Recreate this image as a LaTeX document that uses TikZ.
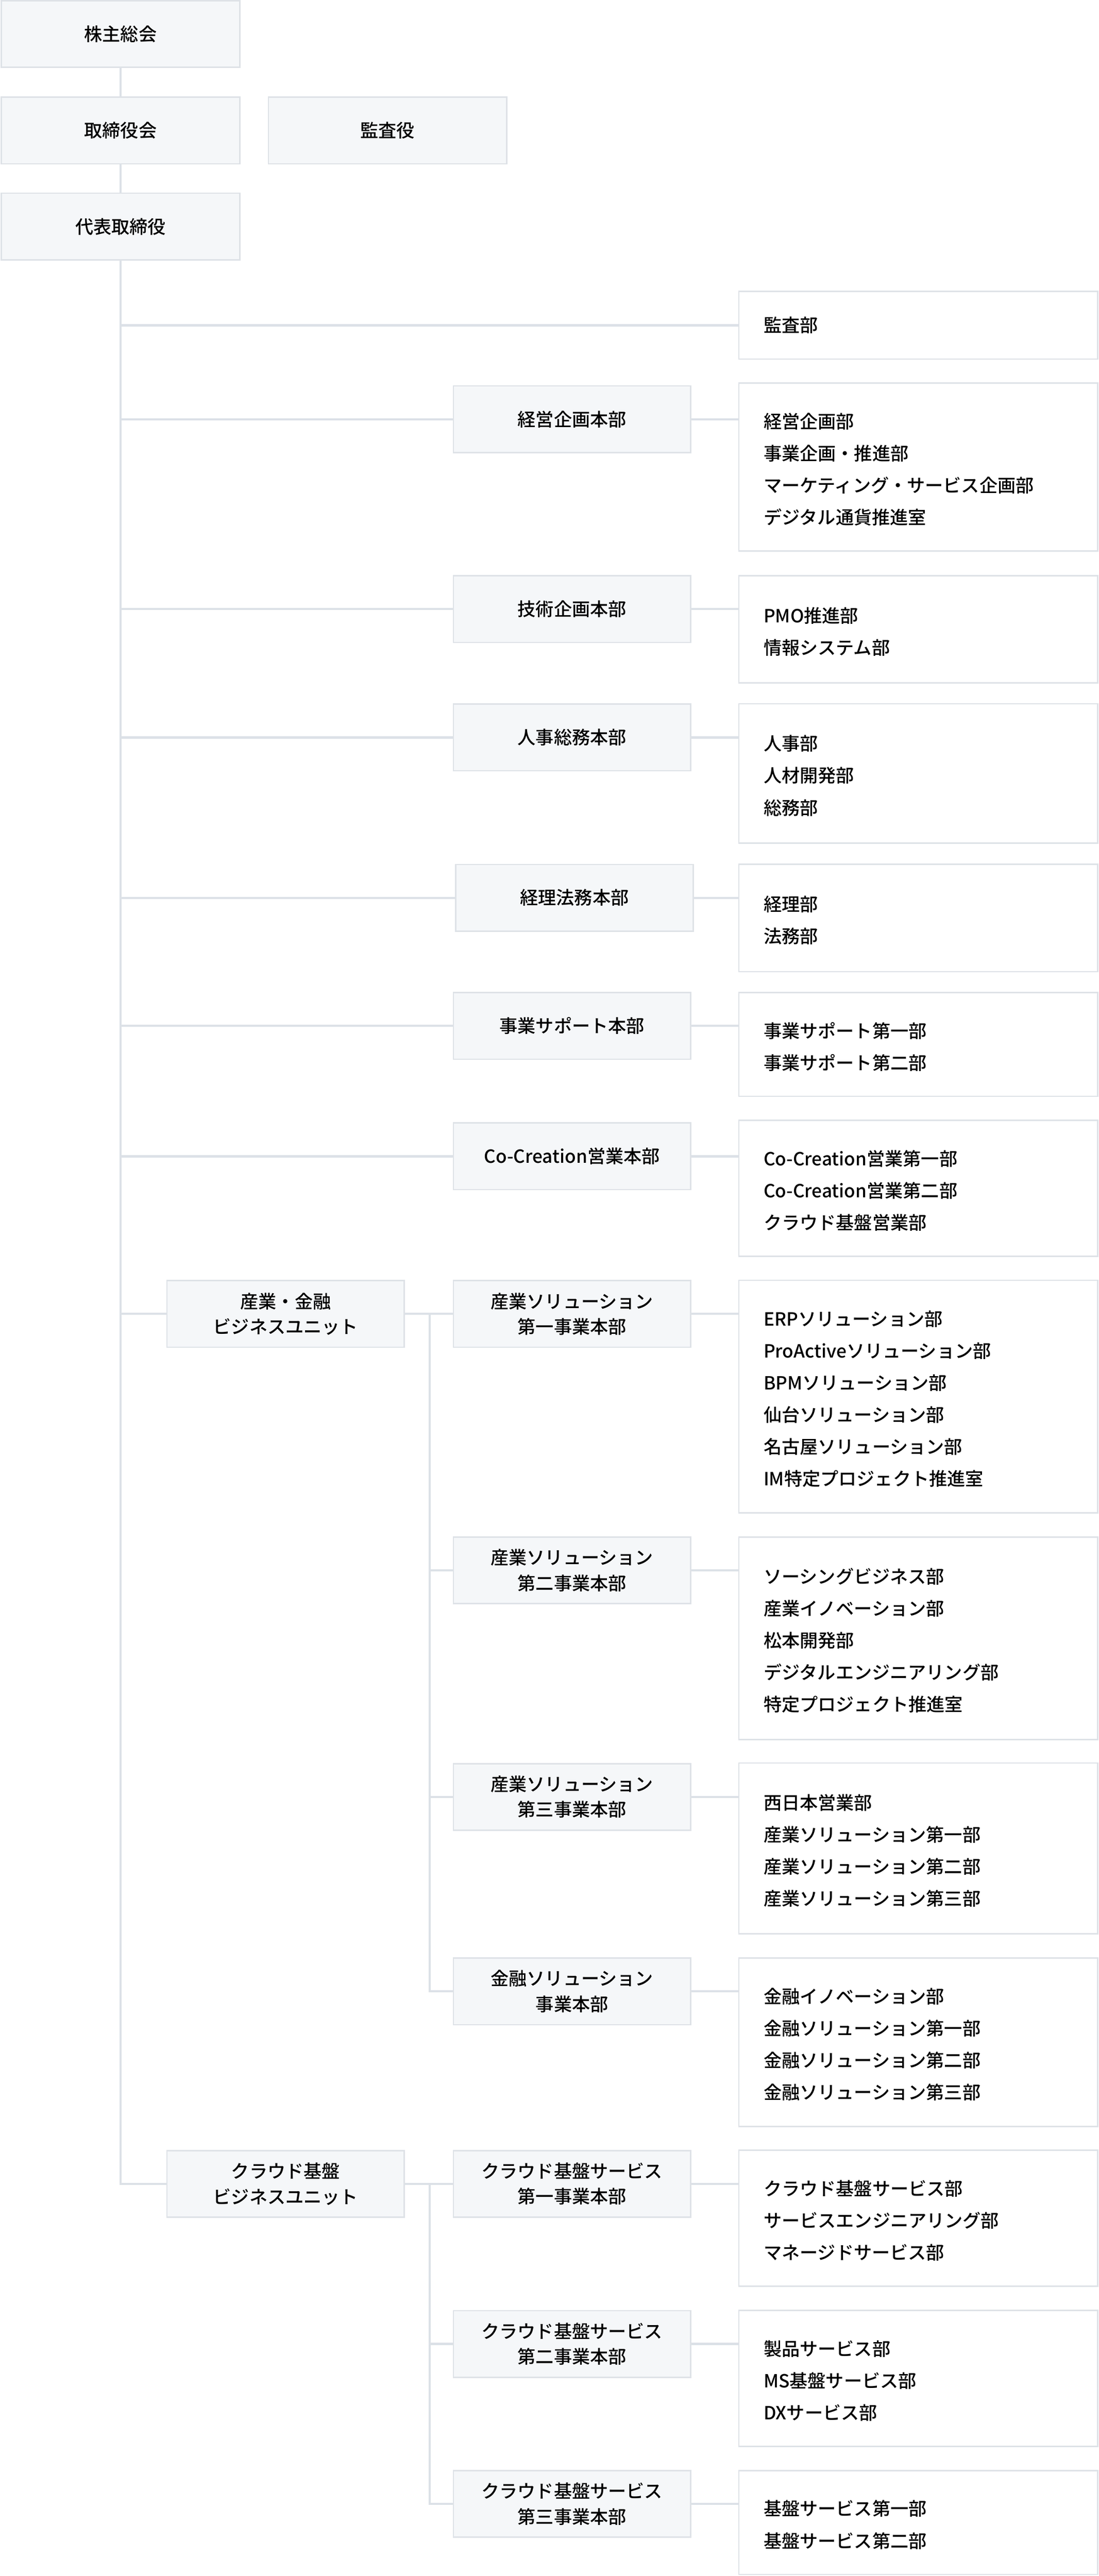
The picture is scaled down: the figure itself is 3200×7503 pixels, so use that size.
\documentclass[tikz,border=0pt]{standalone}
\usepackage{fontspec}
\setmainfont{Noto Sans CJK JP Medium}
\usetikzlibrary{positioning}

\definecolor{boxfill}{HTML}{F5F7F9}
\definecolor{boxline}{HTML}{DEE2E7}
\definecolor{linkline}{HTML}{DCE1E7}

\begin{document}
\begin{tikzpicture}[
    x = 0.01cm,
    y = -0.01cm,
    greybox/.style={draw=boxline, fill=boxfill, line width=0.04cm, inner sep=0pt,
        minimum height=1.94cm, align=center, font=\fontsize{15pt}{21pt}\selectfont},
    topbox/.style={greybox, minimum width=6.94cm},
    honbu/.style={greybox, minimum width=6.91cm},
    bubox/.style={draw=boxline, fill=white, line width=0.04cm, anchor=north west,
        inner xsep=0.72cm, inner ysep=0pt, text width=9cm, align=left,
        font=\fontsize{15pt}{26.5pt}\selectfont},
    bulist/.style={bubox, execute at begin node={\rule{0pt}{16.5pt}}},
    link/.style={draw=linkline, line width=0.063cm}
    ]
    \useasboundingbox (0,0) rectangle (3200,7503);

    % top of the chart
    \node[topbox] (soukai) at (351,99) {株主総会};
    \node[topbox] (torikai) at (351,380) {取締役会};
    \node[topbox] (kansayaku) at (1129,380) {監査役};
    \node[topbox] (daihyo) at (351,660) {代表取締役};

    % headquarters
    \node[honbu] (keiei) at (1666,1221) {経営企画本部};
    \node[honbu] (gijutsu) at (1666,1774) {技術企画本部};
    \node[honbu] (jinji) at (1666,2148) {人事総務本部};
    \node[honbu] (keiri) at (1673,2615) {経理法務本部};
    \node[honbu] (support) at (1666,2988) {事業サポート本部};
    \node[honbu] (cocre) at (1666,3368) {Co-Creation営業本部};
    \node[honbu] (sangyo1) at (1666,3827) {産業ソリューション\\第一事業本部};
    \node[honbu] (sangyo2) at (1666,4574) {産業ソリューション\\第二事業本部};
    \node[honbu] (sangyo3) at (1666,5234) {産業ソリューション\\第三事業本部};
    \node[honbu] (kinyu) at (1666,5800) {金融ソリューション\\事業本部};
    \node[honbu] (cloud1) at (1666,6361) {クラウド基盤サービス\\第一事業本部};
    \node[honbu] (cloud2) at (1666,6827) {クラウド基盤サービス\\第二事業本部};
    \node[honbu] (cloud3) at (1666,7293) {クラウド基盤サービス\\第三事業本部};

    % business units
    \node[honbu] (sangyounit) at (832,3827) {産業・金融\\ビジネスユニット};
    \node[honbu] (cloudunit) at (832,6361) {クラウド基盤\\ビジネスユニット};

    % departments
    \node[bubox, minimum height=1.97cm] (kansabu) at (2150,847) {監査部};
    \node[bulist, minimum height=4.89cm] (keieibu) at (2150,1114)
        {経営企画部\\事業企画・推進部\\マーケティング・サービス企画部\\デジタル通貨推進室};
    \node[bulist, minimum height=3.12cm] (gijutsubu) at (2150,1675)
        {PMO推進部\\情報システム部};
    \node[bulist, minimum height=4.05cm] (jinjibu) at (2150,2048)
        {人事部\\人材開発部\\総務部};
    \node[bulist, minimum height=3.13cm] (keiribu) at (2150,2515)
        {経理部\\法務部};
    \node[bulist, minimum height=3.02cm] (supportbu) at (2150,2889)
        {事業サポート第一部\\事業サポート第二部};
    \node[bulist, minimum height=3.96cm] (cocrebu) at (2150,3261)
        {Co-Creation営業第一部\\Co-Creation営業第二部\\クラウド基盤営業部};
    \node[bulist, minimum height=6.77cm] (sangyo1bu) at (2150,3727)
        {ERPソリューション部\\ProActiveソリューション部\\BPMソリューション部\\仙台ソリューション部\\名古屋ソリューション部\\IM特定プロジェクト推進室};
    \node[bulist, minimum height=5.89cm] (sangyo2bu) at (2150,4475)
        {ソーシングビジネス部\\産業イノベーション部\\松本開発部\\デジタルエンジニアリング部\\特定プロジェクト推進室};
    \node[bulist, minimum height=4.97cm] (sangyo3bu) at (2150,5133)
        {西日本営業部\\産業ソリューション第一部\\産業ソリューション第二部\\産業ソリューション第三部};
    \node[bulist, minimum height=4.90cm] (kinyubu) at (2150,5701)
        {金融イノベーション部\\金融ソリューション第一部\\金融ソリューション第二部\\金融ソリューション第三部};
    \node[bulist, minimum height=3.96cm] (cloud1bu) at (2150,6261)
        {クラウド基盤サービス部\\サービスエンジニアリング部\\マネージドサービス部};
    \node[bulist, minimum height=3.96cm] (cloud2bu) at (2150,6727)
        {製品サービス部\\MS基盤サービス部\\DXサービス部};
    \node[bulist, minimum height=3.02cm] (cloud3bu) at (2150,7194)
        {基盤サービス第一部\\基盤サービス第二部};

    % connectors
    \draw[link] (soukai) -- (torikai);
    \draw[link] (torikai) -- (daihyo);
    \draw[link] (daihyo.south) |- (cloudunit.west);
    \draw[link] (daihyo.south |- kansabu.west) -- (kansabu.west);
    \foreach \hq/\bu in {keiei/keieibu, gijutsu/gijutsubu, jinji/jinjibu, keiri/keiribu,
        support/supportbu, cocre/cocrebu}{
        \draw[link] (daihyo.south |- \hq.west) -- (\hq.west);
        \draw[link] (\hq.east) -- (\hq.east -| \bu.west);
    }
    \draw[link] (daihyo.south |- sangyounit.west) -- (sangyounit.west);
    \foreach \hq/\bu in {sangyo1/sangyo1bu, sangyo2/sangyo2bu, sangyo3/sangyo3bu,
        kinyu/kinyubu, cloud1/cloud1bu, cloud2/cloud2bu, cloud3/cloud3bu}{
        \draw[link] (\hq.east) -- (\hq.east -| \bu.west);
    }
    \coordinate (sangyobus) at (1252,3827);
    \coordinate (cloudbus) at (1252,6361);
    \draw[link] (sangyounit.east) -- (sangyo1.west);
    \draw[link] (sangyobus) |- (kinyu.west);
    \draw[link] (sangyobus |- sangyo2.west) -- (sangyo2.west);
    \draw[link] (sangyobus |- sangyo3.west) -- (sangyo3.west);
    \draw[link] (cloudunit.east) -- (cloud1.west);
    \draw[link] (cloudbus) |- (cloud3.west);
    \draw[link] (cloudbus |- cloud2.west) -- (cloud2.west);
\end{tikzpicture}
\end{document}
